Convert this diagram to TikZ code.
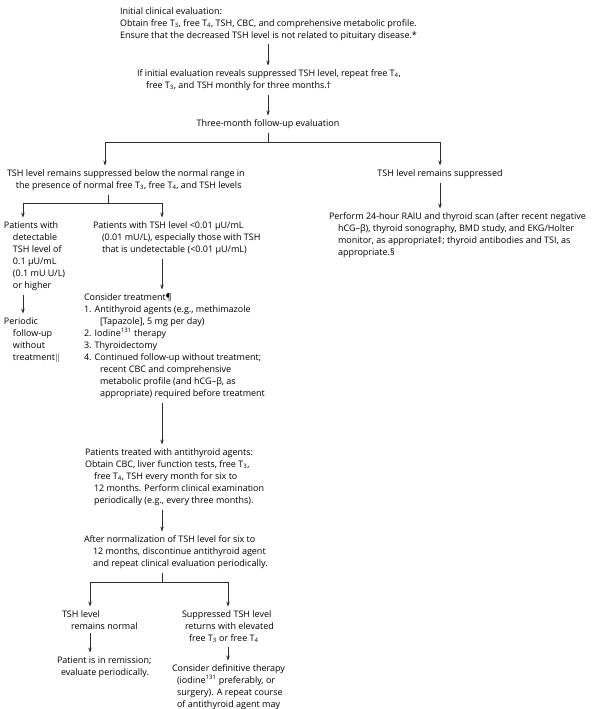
\documentclass[tikz,border=0pt]{standalone}
\usepackage{fontspec}
\setmainfont{Open Sans}
\usetikzlibrary{arrows.meta}
\definecolor{flowGray}{RGB}{45,45,45}
\newcommand{\ind}{\hspace*{9pt}}
\newcommand{\itm}{\hspace*{16pt}}

\begin{document}
\begin{tikzpicture}[x=1pt,y=-1pt,
  txt/.style={anchor=north west,align=left,inner sep=0pt,outer sep=4pt,font=\fontsize{9}{12}\selectfont},
  arr/.style={flowGray,line width=0.6pt,-{Stealth[length=5pt,width=3.4pt]}},
  ln/.style={flowGray,line width=0.6pt}]
\fill[white] (0,0) rectangle (595,709);
\useasboundingbox (0,0) rectangle (595,709);
\coordinate (colC) at (268,0);
\coordinate (brL) at (105,0);
\coordinate (colL) at (23,0);
\coordinate (colM) at (162,0);
\coordinate (subL) at (90,0);
\coordinate (subR) at (228,0);

\node[txt] (init) at (116,3.5) {Initial clinical evaluation:\\
Obtain free T\textsubscript{3}, free T\textsubscript{4}, TSH, CBC, and comprehensive metabolic profile.\\
Ensure that the decreased TSH level is not related to pituitary disease.*};
\node[txt] (repeat) at (133,65.5) {If initial evaluation reveals suppressed TSH level, repeat free T\textsubscript{4},\\
\ind free T\textsubscript{3}, and TSH monthly for three months.†};
\node[txt,anchor=north] (threeMo) at (268,115.5) {Three-month follow-up evaluation};
\node[txt] (suppNorm) at (3,165.5) {TSH level remains suppressed below the normal range in\\
\ind the presence of normal free T\textsubscript{3}, free T\textsubscript{4}, and TSH levels};
\node[txt,anchor=north] (suppOnly) at (440,165.5) {TSH level remains suppressed};
\node[txt] (raiu) at (325,208.5) {Perform 24-hour RAIU and thyroid scan (after recent negative\\
\ind hCG–β), thyroid sonography, BMD study, and EKG/Holter\\
\ind monitor, as appropriate‡; thyroid antibodies and TSI, as\\
\ind appropriate.§};
\node[txt] (detect) at (0,217.5) {Patients with\\
\ind detectable\\
\ind TSH level of\\
\ind 0.1 µU/mL\\
\ind (0.1 mU U/L)\\
\ind or higher};
\node[txt] (undetect) at (89,217.5) {Patients with TSH level <0.01 µU/mL\\
\ind (0.01 mU/L), especially those with TSH\\
\ind that is undetectable (<0.01 µU/mL)};
\node[txt] (periodic) at (0,313.5) {Periodic\\
\ind follow-up\\
\ind without\\
\ind treatment$\Vert$};
\node[txt] (consider) at (80,289.5) {Consider treatment¶\\
1. Antithyroid agents (e.g., methimazole\\
\itm [Tapazole], 5 mg per day)\\
2. Iodine\textsuperscript{131} therapy\\
3. Thyroidectomy\\
4. Continued follow-up without treatment;\\
\itm recent CBC and comprehensive\\
\itm metabolic profile (and hCG–β, as\\
\itm appropriate) required before treatment};
\node[txt] (treated) at (81,444.5) {Patients treated with antithyroid agents:\\
Obtain CBC, liver function tests, free T\textsubscript{3},\\
\ind free T\textsubscript{4}, TSH every month for six to\\
\ind 12 months. Perform clinical examination\\
\ind periodically (e.g., every three months).};
\node[txt] (normal) at (80,531.5) {After normalization of TSH level for six to\\
\ind 12 months, discontinue antithyroid agent\\
\ind and repeat clinical evaluation periodically.};
\node[txt] (remNorm) at (58,606.5) {TSH level\\
\ind remains normal};
\node[txt] (returns) at (178,606.5) {Suppressed TSH level\\
\hspace*{3pt}returns with elevated\\
\hspace*{7pt}free T\textsubscript{3} or free T\textsubscript{4}};
\node[txt] (remission) at (53,652.5) {Patient is in remission;\\
\hspace*{4pt}evaluate periodically.};
\node[txt] (definitive) at (168,660.5) {Consider definitive therapy\\
\hspace*{5pt}(iodine\textsuperscript{131} preferably, or\\
\hspace*{5pt}surgery). A repeat course\\
\hspace*{5pt}of antithyroid agent may};

\coordinate (splitA) at (268,142);
\coordinate (splitB) at (108,203);
\coordinate (splitC) at (162,582);

\draw[arr] (init.south -| colC) -- (repeat.north -| colC);
\draw[arr] (repeat.south -| colC) -- (threeMo.north);
\draw[ln] (threeMo.south) -- (splitA);
\draw[arr] (splitA) -| (suppNorm.north -| brL);
\draw[arr] (splitA) -| (suppOnly.north);
\draw[arr] (suppOnly.south) -- (raiu.north -| suppOnly.south);
\draw[ln] (suppNorm.south -| splitB) -- (splitB);
\draw[arr] (splitB) -| (detect.north -| colL);
\draw[arr] (splitB) -| (undetect.north -| colM);
\draw[arr] (detect.south -| colL) -- (periodic.north -| colL);
\draw[arr] (undetect.south -| colM) -- (consider.north -| colM);
\draw[arr] (consider.south -| colM) -- (treated.north -| colM);
\draw[arr] (treated.south -| colM) -- (normal.north -| colM);
\draw[ln] (normal.south -| splitC) -- (splitC);
\draw[arr] (splitC) -| (remNorm.north -| subL);
\draw[arr] (splitC) -| (returns.north -| subR);
\draw[arr] (remNorm.south -| subL) -- (remission.north -| subL);
\draw[arr] (returns.south -| subR) -- (definitive.north -| subR);
\end{tikzpicture}
\end{document}
